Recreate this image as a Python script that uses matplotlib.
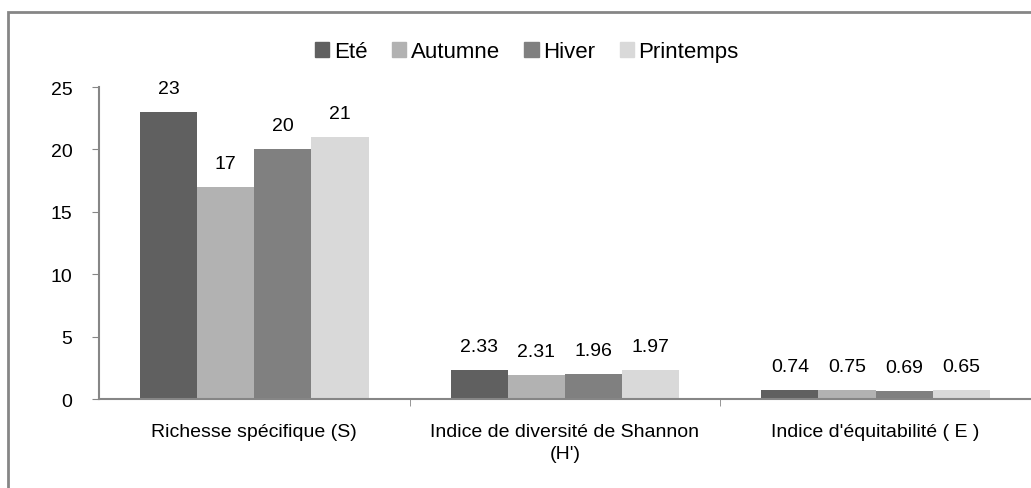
import matplotlib
matplotlib.use('Agg')
import matplotlib.pyplot as plt
import numpy as np
from matplotlib.patches import Patch, Rectangle

plt.rcParams['font.family'] = ['Liberation Sans', 'DejaVu Sans']

# données
categories = ['Richesse spécifique (S)', 'Indice de diversité de Shannon\n(H\')',
              "Indice d'équitabilité ( E )"]
saisons = ['Eté', 'Autumne', 'Hiver', 'Printemps']
ete = [23, 2.33, 0.74]
autumne = [17, 1.96, 0.69]
hiver = [20, 1.97, 0.65]
printemps = [21, 2.31, 0.75]
# étiquettes telles qu'affichées sur le graphique
labels_ete = ['23', '2.33', '0.74']
labels_autumne = ['17', '2.31', '0.75']
labels_hiver = ['20', '1.96', '0.69']
labels_printemps = ['21', '1.97', '0.65']

couleurs = ['#606060', '#b2b2b2', '#808080', '#d9d9d9']
axe_gris = '#868686'

fig = plt.figure(figsize=(10.31, 4.89), dpi=100)
ax = fig.add_axes([0.096, 0.182, 0.904, 0.638])

# cadre extérieur
fig.patches.append(Rectangle((8 / 1031, -0.1), 1.2, 1 - 13 / 489 + 0.1,
                             transform=fig.transFigure, fill=False,
                             edgecolor=axe_gris, linewidth=2))

x = np.arange(len(categories))
w = 0.184
series = [ete, autumne, hiver, printemps]
labels = [labels_ete, labels_autumne, labels_hiver, labels_printemps]
for i, (vals, labs) in enumerate(zip(series, labels)):
    pos = x + (i - 1.5) * w
    ax.bar(pos, vals, w, color=couleurs[i], label=saisons[i])
    for p, v, t in zip(pos, vals, labs):
        ax.text(p, v + 1.2, t, ha='center', va='bottom', fontsize=14)

ax.set_xlim(-0.5, 2.5)
ax.set_ylim(0, 25)
ax.set_yticks([0, 5, 10, 15, 20, 25])
ax.set_xticks(x)
ax.set_xticklabels(categories, fontsize=14, linespacing=1.45)
ax.set_xticks([0.5, 1.5], minor=True)
ax.tick_params(axis='x', which='major', length=0, pad=17)
ax.tick_params(axis='x', which='minor', length=5, color=axe_gris, direction='out')
ax.tick_params(axis='y', labelsize=14, length=5, color=axe_gris, pad=14)
for s in ['top', 'right']:
    ax.spines[s].set_visible(False)
for s in ['left', 'bottom']:
    ax.spines[s].set_color(axe_gris)
    ax.spines[s].set_linewidth(1.5)

handles = [Patch(color=c) for c in couleurs]
fig.legend(handles, saisons, loc='center', bbox_to_anchor=(0.511, 0.892), ncol=4,
           frameon=False, fontsize=16, handlelength=0.65, handleheight=0.65,
           handletextpad=0.2, columnspacing=1.1)

fig.savefig('out.png', dpi=100)
